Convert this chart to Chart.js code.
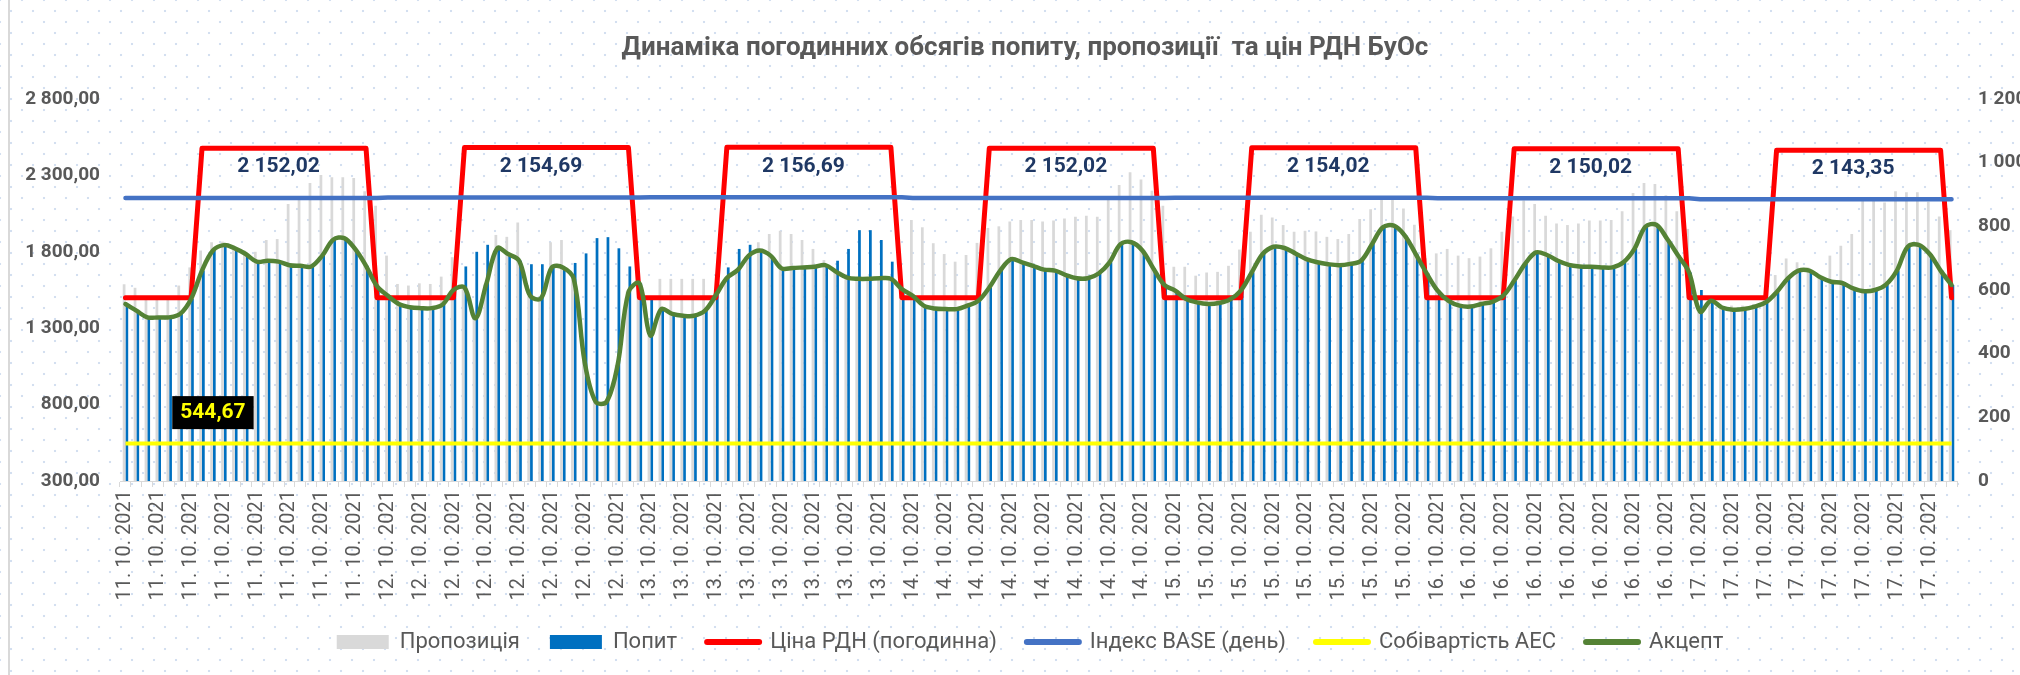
<!DOCTYPE html>
<html lang="uk">
<head>
<meta charset="UTF-8">
<title>Динаміка погодинних обсягів попиту, пропозиції та цін РДН БуОс</title>
<script src="https://cdn.jsdelivr.net/npm/chart.js"></script>
<style>
    html, body { margin: 0; padding: 0; }
    body {
        width: 2020px;
        height: 675px;
        overflow: hidden;
        background-color: #ffffff;
        background-image: radial-gradient(circle, #d3dff0 1px, transparent 1.6px),
                          radial-gradient(circle, #d3dff0 1px, transparent 1.6px);
        background-size: 22px 22px;
        background-position: 0 0, 11px 11px;
    }
    .frame { position: absolute; left: 8px; top: 0; width: 2px; height: 675px; background: #d9d9d9; }
    canvas { position: absolute; left: 0; top: 0; }
</style>
</head>
<body>
<div class="frame"></div>
<canvas id="chart" width="2020" height="675"></canvas>
<script>
// дати (по 24 години на день)
const days = ['11. 10. 2021', '12. 10. 2021', '13. 10. 2021', '14. 10. 2021', '15. 10. 2021', '16. 10. 2021', '17. 10. 2021'];

// Пропозиція, МВт*год
const supply11 = [618,607,572,572,572,614,671,724,750,752,737,724,720,757,760,870,884,936,961,954,954,952,910,865];
const supply12 = [708,619,614,621,619,642,703,610,515,620,773,767,812,580,575,750,757,636,380,250,250,365,595,640];
const supply13 = [457,635,635,635,635,635,590,640,665,710,750,776,786,776,757,729,694,658,640,636,636,638,636,610];
const supply14 = [820,797,747,713,689,710,748,795,800,815,820,820,815,818,825,830,833,830,886,930,970,947,912,865];
const supply15 = [673,673,645,655,657,676,727,783,836,828,804,783,786,784,767,760,776,823,854,886,886,856,805,700];
const supply16 = [715,729,708,700,705,731,783,831,881,870,833,809,804,809,818,818,820,847,905,936,933,898,847,792];
const supply17 = [532,570,545,551,551,556,572,647,699,687,671,645,708,739,776,881,881,875,910,907,907,877,831,788];

// Попит, МВт*год
const demand11 = [556,535,514,514,514,525,572,661,724,741,731,713,689,692,689,678,676,674,708,758,763,729,676,612];
const demand12 = [582,556,546,543,543,554,600,674,720,742,731,713,692,681,681,671,671,685,715,763,766,731,674,621];
const demand13 = [572,540,525,519,519,535,584,671,729,742,724,708,668,669,671,673,678,692,729,788,788,757,689,603];
const demand14 = [582,551,542,540,540,551,566,608,661,697,687,676,664,661,647,637,637,652,687,744,750,724,668,616];
const demand15 = [598,572,561,556,559,570,598,655,713,736,732,715,697,687,681,678,682,692,744,797,802,771,713,652];
const demand16 = [598,566,551,548,556,563,582,629,682,718,710,692,679,674,673,671,671,687,729,799,805,760,708,655];
const demand17 = [600,566,545,538,540,548,561,593,635,661,661,640,626,622,605,596,600,617,661,736,742,713,661,616];

// Акцепт, МВт*год
const accept11 = [556,535,514,514,514,525,572,661,724,741,731,713,689,692,689,678,676,674,708,758,763,729,676,612];
const accept12 = [582,556,546,543,543,554,600,608,511,619,731,713,692,582,574,671,671,635,373,249,249,362,593,621];
const accept13 = [457,540,525,519,519,535,584,638,663,708,724,708,668,669,671,673,678,657,639,635,635,637,635,603];
const accept14 = [582,551,542,540,540,551,566,608,661,697,687,676,664,661,647,637,637,652,687,744,750,724,668,616];
const accept15 = [598,572,561,556,559,570,598,655,713,736,732,715,697,687,681,678,682,692,744,797,802,771,713,652];
const accept16 = [598,566,551,548,556,563,582,629,682,718,710,692,679,674,673,671,671,687,729,799,805,760,708,655];
const accept17 = [532,566,545,538,540,548,561,593,635,661,661,640,626,622,605,596,600,617,661,736,742,713,661,616];

// Ціна РДН (погодинна), грн/МВт*год
const price11 = [1500,1500,1500,1500,1500,1500,1500,2478,2478,2478,2478,2478,2478,2478,2478,2478,2478,2478,2478,2478,2478,2478,2478,1500];
const price12 = [1500,1500,1500,1500,1500,1500,1500,2482,2482,2482,2482,2482,2482,2482,2482,2482,2482,2482,2482,2482,2482,2482,2482,1500];
const price13 = [1500,1500,1500,1500,1500,1500,1500,2485,2485,2485,2485,2485,2485,2485,2485,2485,2485,2485,2485,2485,2485,2485,2485,1500];
const price14 = [1500,1500,1500,1500,1500,1500,1500,2478,2478,2478,2478,2478,2478,2478,2478,2478,2478,2478,2478,2478,2478,2478,2478,1500];
const price15 = [1500,1500,1500,1500,1500,1500,1500,2481,2481,2481,2481,2481,2481,2481,2481,2481,2481,2481,2481,2481,2481,2481,2481,1500];
const price16 = [1500,1500,1500,1500,1500,1500,1500,2475,2475,2475,2475,2475,2475,2475,2475,2475,2475,2475,2475,2475,2475,2475,2475,1500];
const price17 = [1500,1500,1500,1500,1500,1500,1500,2465,2465,2465,2465,2465,2465,2465,2465,2465,2465,2465,2465,2465,2465,2465,2465,1500];

// Індекс BASE (день) та собівартість АЕС
const baseIndex = [2152.02, 2154.69, 2156.69, 2152.02, 2154.02, 2150.02, 2143.35];
const nppCost = 544.67;

// тики осей
const leftTicks = [300, 800, 1300, 1800, 2300, 2800];
const rightTicks = [0, 200, 400, 600, 800, 1000, 1200];

const labels = [];
const baseHourly = [];
const costHourly = [];
days.forEach((d, i) => {
    for (let h = 0; h < 24; h++) {
        labels.push(d);
        baseHourly.push(baseIndex[i]);
        costHourly.push(nppCost);
    }
});
const supply = [].concat(supply11, supply12, supply13, supply14, supply15, supply16, supply17);
const demand = [].concat(demand11, demand12, demand13, demand14, demand15, demand16, demand17);
const accept = [].concat(accept11, accept12, accept13, accept14, accept15, accept16, accept17);
const price = [].concat(price11, price12, price13, price14, price15, price16, price17);

function fmt(v, dec) {
    const parts = v.toFixed(dec).split('.');
    const intPart = parts[0].replace(/\B(?=(\d{3})+(?!\d))/g, ' ');
    return parts.length > 1 ? intPart + ',' + parts[1] : intPart;
}

const GREY_TEXT = '#595959';
const FONT = 'Roboto, "Noto Sans", sans-serif';
Chart.defaults.font.family = FONT;
Chart.defaults.color = GREY_TEXT;

// підписи значень на лініях
const valueLabels = {
    id: 'valueLabels',
    afterLayout(chart) {
        // легенда та заголовок трохи зміщені вправо, як в оригіналі
        chart.legend.left += 20;
        chart.legend.right += 20;
        chart.titleBlock.left += 15;
        chart.titleBlock.right += 15;
    },
    afterDatasetsDraw(chart) {
        const ctx = chart.ctx;
        ctx.save();
        ctx.textAlign = 'center';
        ctx.textBaseline = 'middle';

        const baseMeta = chart.getDatasetMeta(3);
        ctx.font = 'bold 21px ' + FONT;
        ctx.fillStyle = '#1f3864';
        baseIndex.forEach((v, d) => {
            const pt = baseMeta.data[d * 24 + 14];
            ctx.fillText(fmt(v, 2), pt.x, pt.y - 31);
        });

        const costMeta = chart.getDatasetMeta(4);
        const p = costMeta.data[8];
        ctx.font = 'bold 21px ' + FONT;
        const txt = fmt(nppCost, 2);
        const w = ctx.measureText(txt).width + 16;
        ctx.fillStyle = '#000000';
        ctx.fillRect(p.x - w / 2, p.y - 31 - 16.5, w, 33);
        ctx.fillStyle = '#ffff00';
        ctx.fillText(txt, p.x, p.y - 31);
        ctx.restore();
    }
};

const chart = new Chart(document.getElementById('chart'), {
    type: 'bar',
    data: {
        labels: labels,
        datasets: [
            { label: 'Пропозиція', data: supply, backgroundColor: '#d9d9d9', yAxisID: 'y1', order: 5,
              categoryPercentage: 0.5, barPercentage: 1.0 },
            { label: 'Попит', data: demand, backgroundColor: '#0070c0', yAxisID: 'y1', order: 6,
              categoryPercentage: 0.5, barPercentage: 1.0 },
            { type: 'line', label: 'Ціна РДН (погодинна)', data: price, borderColor: '#ff0000', backgroundColor: '#ff0000',
              borderWidth: 5, pointRadius: 0, yAxisID: 'y', order: 4, borderJoinStyle: 'round', borderCapStyle: 'round' },
            { type: 'line', label: 'Індекс BASE (день)', data: baseHourly, borderColor: '#4472c4', backgroundColor: '#4472c4',
              borderWidth: 4.5, pointRadius: 0, yAxisID: 'y', order: 3, borderCapStyle: 'round' },
            { type: 'line', label: 'Собівартість АЕС', data: costHourly, borderColor: '#ffff00', backgroundColor: '#ffff00',
              borderWidth: 4, pointRadius: 0, yAxisID: 'y', order: 2 },
            { type: 'line', label: 'Акцепт', data: accept, borderColor: '#548235', backgroundColor: '#548235',
              borderWidth: 4.5, pointRadius: 0, yAxisID: 'y1', order: 1, tension: 0.35,
              borderJoinStyle: 'round', borderCapStyle: 'round' }
        ]
    },
    options: {
        responsive: false,
        animation: false,
        devicePixelRatio: 1,
        layout: { padding: { left: 0, right: 0, top: 0, bottom: 12 } },
        plugins: {
            tooltip: { enabled: false },
            title: {
                display: true,
                text: 'Динаміка погодинних обсягів попиту, пропозиції  та цін РДН БуОс',
                color: GREY_TEXT,
                font: { size: 26, weight: 'bold' },
                padding: { top: 33, bottom: 34.8 }
            },
            legend: {
                position: 'bottom',
                labels: {
                    color: GREY_TEXT,
                    font: { size: 22 },
                    usePointStyle: true,
                    pointStyleWidth: 52,
                    boxHeight: 14,
                    padding: 30,
                    sort: (a, b) => a.datasetIndex - b.datasetIndex,
                    generateLabels(chart) {
                        const items = Chart.defaults.plugins.legend.labels.generateLabels(chart);
                        items.forEach(it => {
                            const ds = chart.data.datasets[it.datasetIndex];
                            if (ds.type === 'line') {
                                it.pointStyle = 'line';
                                it.strokeStyle = ds.borderColor;
                                it.lineWidth = 6;
                                it.lineCap = 'round';
                            } else {
                                it.pointStyle = 'rect';
                                it.fillStyle = ds.backgroundColor;
                                it.lineWidth = 0;
                            }
                        });
                        return items;
                    }
                }
            }
        },
        scales: {
            x: {
                offset: true,
                grid: { display: true, drawOnChartArea: false, drawTicks: true, tickLength: 6, color: '#d9d9d9', offset: true },
                border: { display: true, color: '#d9d9d9', width: 1 },
                ticks: {
                    autoSkip: false,
                    maxRotation: 90,
                    minRotation: 90,
                    padding: 3,
                    color: GREY_TEXT,
                    font: { size: 20 },
                    callback: function (val, i) { return i % 3 === 0 ? this.getLabelForValue(val) : ''; }
                },
                afterFit(scale) { scale.height = 120; }
            },
            y: {
                position: 'left',
                min: leftTicks[0],
                max: leftTicks[leftTicks.length - 1],
                afterBuildTicks(scale) { scale.ticks = leftTicks.map(v => ({ value: v })); },
                grid: { display: false, drawTicks: false },
                border: { display: false },
                ticks: { padding: 20, color: GREY_TEXT, font: { size: 19, weight: 'bold' }, callback: v => fmt(v, 2) },
                afterFit(scale) { scale.width = 120; }
            },
            y1: {
                position: 'right',
                min: rightTicks[0],
                max: rightTicks[rightTicks.length - 1],
                afterBuildTicks(scale) { scale.ticks = rightTicks.map(v => ({ value: v })); },
                grid: { display: false, drawTicks: false },
                border: { display: false },
                ticks: { padding: 21, color: GREY_TEXT, font: { size: 19, weight: 'bold' }, callback: v => fmt(v, 0) },
                afterFit(scale) { scale.width = 63; }
            }
        }
    },
    plugins: [valueLabels]
});
</script>
</body>
</html>
